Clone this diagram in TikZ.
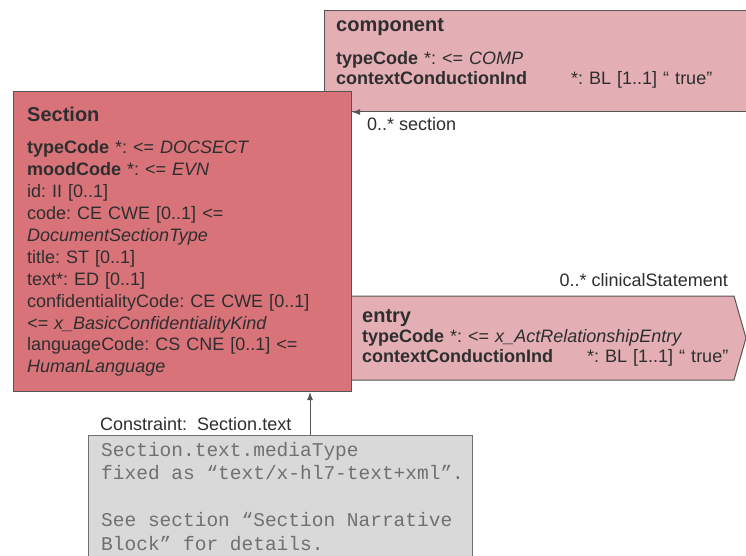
\documentclass[tikz,border=0pt]{standalone}
\usepackage{fontspec}
\setmainfont{Liberation Sans}
\setmonofont{Liberation Mono}[Kerning=Off]
\usetikzlibrary{arrows.meta,positioning}
\definecolor{sectred}{HTML}{D9737A}
\definecolor{relpink}{HTML}{E3AFB4}
\definecolor{notegray}{HTML}{D9D9D9}
\definecolor{edgegray}{HTML}{555555}
\definecolor{inkgray}{HTML}{2E2E2E}
\definecolor{codegray}{HTML}{707070}
\newcommand{\rimtitle}[1]{{\fontsize{20}{24}\selectfont\bfseries #1}}
\frenchspacing

\begin{document}
\begin{tikzpicture}[
    x=1pt, y=-1pt,
    box/.style={draw=edgegray, line width=1pt, inner sep=0pt,
                anchor=north west},
    attr/.style={inner sep=0pt, anchor=base west, align=left,
                 text width=#1, text=inkgray,
                 font=\fontsize{18}{20}\selectfont},
    attr/.default=400pt,
    note/.style={inner sep=0pt, anchor=base west, align=left,
                 text width=400pt, text=codegray,
                 font=\ttfamily\fontsize{19.5}{23.5}\selectfont,
                 execute at begin node={\spaceskip=0.6em\relax}},
    rolelabel/.style={inner sep=0pt, text=inkgray,
                      font=\fontsize{18}{21}\selectfont},
    arrow/.style={-{Latex[length=8pt,width=6pt]}, draw=edgegray,
                  line width=1pt},
]
\useasboundingbox (0,0) rectangle (746,556);
\clip (0,0) rectangle (746,556);
\fill[white] (0,0) rectangle (746,556);

% Relationships behind the class
\node[box, fill=relpink, minimum width=440pt, minimum height=101pt]
     (component) at (324,10) {};
\draw[draw=edgegray, line width=1pt, fill=relpink]
     (340,296) -- (734,296) -- (746,338) -- (734,380) -- (340,380) -- cycle;

% Class
\node[box, fill=sectred, minimum width=338pt, minimum height=300pt]
     (section) at (13,91) {};

% Constraint
\node[box, draw=codegray, fill=notegray, minimum width=384pt,
      minimum height=140pt] (constraint) at (88,435) {};

% Texts
\node[attr] (componentattr) at (336,32)
     {\rimtitle{component}\\[13pt]
      \textbf{typeCode} *: <= \textit{COMP}\\
      \makebox[235pt][l]{\textbf{contextConductionInd}}*: BL [1..1] “ true”};
\node[attr, font=\fontsize{18}{21.9}\selectfont] (sectionattr) at (27,122)
     {\rimtitle{Section}\\[10pt]
      \textbf{typeCode} *: <= \textit{DOCSECT}\\
      \textbf{moodCode} *: <= \textit{EVN}\\
      id: II [0..1]\\
      code: CE CWE [0..1] <=\\
      \textit{DocumentSectionType}\\
      title: ST [0..1]\\
      text*: ED [0..1]\\
      confidentialityCode: CE CWE [0..1]\\
      \textit{<= x\_BasicConfidentialityKind}\\
      languageCode: CS CNE [0..1] <=\\
      \textit{HumanLanguage}};
\node[attr] (entryattr) at (362,322)
     {\rimtitle{entry}\\
      \textbf{typeCode} *: <= \textit{x\_ActRelationshipEntry}\\
      \makebox[225pt][l]{\textbf{contextConductionInd}}*: BL [1..1] “ true”};
\node[note] (constrainttext) at (101,456)
     {Section.text.mediaType\\
      fixed as “text/x-hl7-text+xml”.\\
      \mbox{}\\
      See section “Section Narrative\\
      Block” for details.};

\node[rolelabel, anchor=base west] (sectionrole) at (367,131) {0..* section};
\node[rolelabel, anchor=base east] (entryrole) at (728,286)
     {0..* clinicalStatement};
\node[rolelabel, anchor=base west] (constraintlbl) at (100,430)
     {Constraint:\ \ Section.text};

% Arrows
\draw[arrow] (component.south east) -- (component.south east -| section.east);
\coordinate (constraintfoot) at ([xshift=222pt]constraint.north west);
\draw[arrow] (constraintfoot) -- (constraintfoot |- section.south);
\end{tikzpicture}
\end{document}
